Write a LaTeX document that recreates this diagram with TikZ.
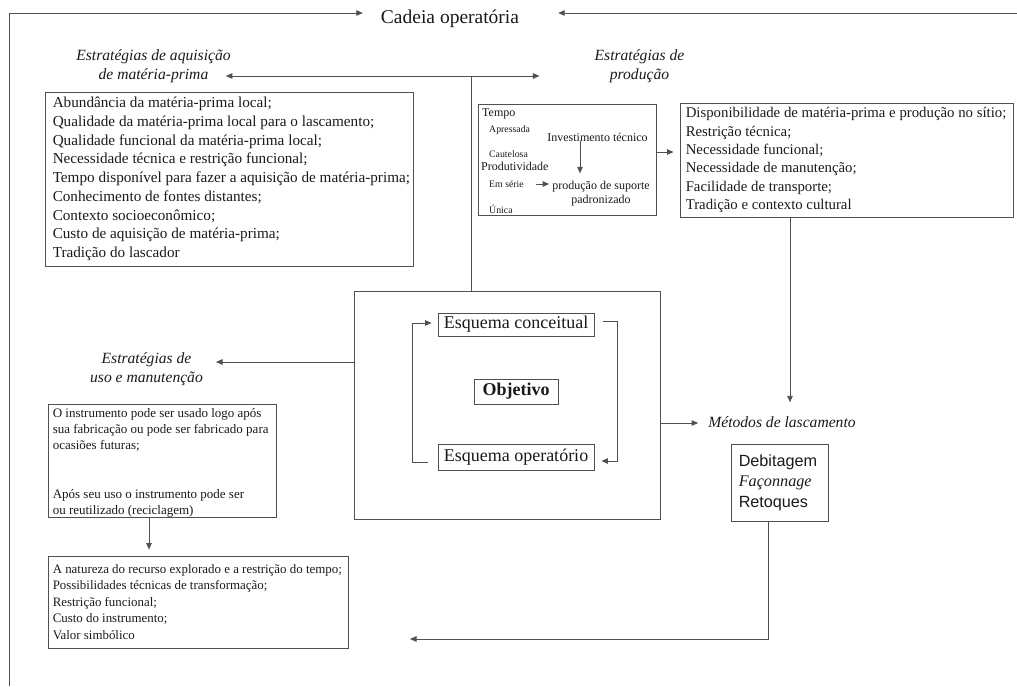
\documentclass[tikz,border=0pt]{standalone}
\usepackage{fontspec}
\setmainfont{Liberation Serif}
\newfontfamily\sansf{Liberation Sans}
\usetikzlibrary{arrows.meta,calc}
\definecolor{ln}{HTML}{505050}
\definecolor{tx}{HTML}{1A1A1A}
\begin{document}
\begin{tikzpicture}[x=1pt,y=-1pt,
  line/.style={draw=ln, line width=0.9pt},
  arr/.style={line, -{Triangle[length=6.5pt,width=5.5pt]}},
  box/.style={draw=ln, line width=0.9pt, text=tx, inner sep=0pt},
  btext/.style={text=tx, inner sep=0pt, align=left, anchor=west},
  lab/.style={text=tx, inner sep=0pt, align=center, font=\fontsize{15.6}{19}\selectfont\itshape},
  tsmall/.style={text=tx, inner sep=0pt, anchor=west, font=\fontsize{9.8}{10}\selectfont},
  tmid/.style={text=tx, inner sep=0pt, font=\fontsize{12}{14}\selectfont},
  esq/.style={box, font=\fontsize{18}{20}\selectfont, inner xsep=4pt, minimum height=23pt},
]
\useasboundingbox (0,0) rectangle (1017,686);

% frame and title
\node[text=tx, inner sep=0pt, font=\fontsize{19.5}{22}\selectfont] (title) at (450,19) {Cadeia operatória};
\coordinate (tl) at (9,13);
\coordinate (tr) at (1017,13);
\coordinate (bl) at (9,686);
\draw[arr] (tl) -- ([xshift=-18pt]title.west |- tl);
\draw[arr] (tr) -- ([xshift=39pt]title.east |- tr);
\draw[line] (tl) -- (bl);

% labels
\node[lab] (acq) at (153.5,66) {Estratégias de aquisição\\de matéria-prima};
\node[lab] (prodl) at (639.5,66) {Estratégias de\\produção};
\node[lab] (usel) at (146.5,369.5) {Estratégias de\\uso e manutenção};
\node[lab] (met) at (782,422) {Métodos de lascamento};

% central box
\node[box, minimum width=306pt, minimum height=228pt] (cbox) at (507,405) {};
\node[esq, minimum width=156pt] (conc) at (516,324.5) {Esquema conceitual};
\node[esq, minimum width=84pt, minimum height=25pt] (objv) at (516,391.5) {\bfseries Objetivo};
\node[esq, minimum width=156pt, minimum height=26pt] (oper) at (516,457) {Esquema operatório};

% junction and top arrows
\coordinate (j1) at (471,76);
\draw[line] (cbox.north -| j1) -- (j1);
\draw[arr] (j1) -- ([xshift=-5pt]acq.east |- j1);
\draw[arr] (j1) -- ([xshift=-55pt]prodl.west |- j1);

% acquisition box
\node[box, minimum width=368pt, minimum height=174pt] (acqbox) at (229,179) {};
\node[btext, font=\fontsize{15.2}{18.7}\selectfont] (acqtxt) at ([xshift=8pt]acqbox.west) {Abundância da matéria-prima local;\\
Qualidade da matéria-prima local para o lascamento;\\
Qualidade funcional da matéria-prima local;\\
Necessidade técnica e restrição funcional;\\
Tempo disponível para fazer a aquisição de matéria-prima;\\
Conhecimento de fontes distantes;\\
Contexto socioeconômico;\\
Custo de aquisição de matéria-prima;\\
Tradição do lascador};

% production box
\node[box, minimum width=178pt, minimum height=111pt] (pbox) at (567,159.5) {};
\node[tmid, anchor=west] (tempo) at (482,114) {Tempo};
\node[tsmall] (apr) at (489,130) {Apressada};
\node[tsmall] (cau) at (489,154) {Cautelosa};
\node[tmid, anchor=west] (prd) at (481,166) {Produtividade};
\node[tsmall] (ems) at (489,184) {Em série};
\node[tsmall] (uni) at (489,209) {Única};
\node[tmid] (inv) at (597.5,137) {Investimento técnico};
\node[tmid, align=center] (ps) at (601,194) {produção de suporte\\padronizado};
\draw[arr, shorten >=8pt] ([xshift=-17.5pt]inv.south) -- ([xshift=-17.5pt]inv.south |- ps.north);
\draw[arr] ([xshift=12pt]ems.east) -- ([xshift=-3pt]ps.west |- ems);

% right box
\node[box, minimum width=333pt, minimum height=114pt] (rbox) at (846.5,160) {};
\node[btext, font=\fontsize{14.8}{18.3}\selectfont] (rtxt) at ([xshift=6pt]rbox.west) {Disponibilidade de matéria-prima e produção no sítio;\\
Restrição técnica;\\
Necessidade funcional;\\
Necessidade de manutenção;\\
Facilidade de transporte;\\
Tradição e contexto cultural};
\draw[arr, shorten >=6pt] ([yshift=7.5pt]pbox.east) -- ([yshift=7.5pt]pbox.east -| rbox.west);
\draw[arr, shorten >=14pt] ([xshift=-56.5pt]rbox.south) -- ([xshift=-56.5pt]rbox.south |- met.north);

% loops in central box
\draw[arr] ([xshift=-10pt,yshift=-5pt]oper.west) -- ++(-15,0) |- ([xshift=-6pt,yshift=1.5pt]conc.west);
\draw[arr] ([xshift=9pt,yshift=3.5pt]conc.east) -- ++(14,0) |- ([xshift=7pt,yshift=-4pt]oper.east);

% methods
\draw[arr, shorten >=10pt] ([yshift=-18pt]cbox.east) -- ([yshift=-18pt]cbox.east -| met.west);
\node[box, minimum width=97pt, minimum height=77pt] (deb) at (779.5,482.5) {};
\node[btext, font=\fontsize{16.2}{20.5}\selectfont] (debtxt) at ([xshift=8pt]deb.west) {{\sansf Debitagem}\\{\itshape Façonnage}\\{\sansf Retoques}};

% use box
\path ([xshift=13pt]usel.east) coordinate (ut);
\draw[arr] ([yshift=43pt]cbox.west) -- ([yshift=43pt]cbox.west -| ut);
\node[box, minimum width=228pt, minimum height=113pt] (ubox) at (162,460.5) {};
\node[btext, font=\fontsize{13}{16.2}\selectfont] (utxt) at ([xshift=5pt,yshift=-2.5pt]ubox.west) {O instrumento pode ser usado logo após\\
sua fabricação ou pode ser fabricado para\\
ocasiões futuras;\\[32.4pt]
Após seu uso o instrumento pode ser\\
ou reutilizado (reciclagem)};

% bottom box
\node[box, minimum width=300pt, minimum height=92pt] (bbox) at (198,602) {};
\node[btext, font=\fontsize{12.9}{16.4}\selectfont] (btxt) at ([xshift=5pt]bbox.west) {A natureza do recurso explorado e a restrição do tempo;\\
Possibilidades técnicas de transformação;\\
Restrição funcional;\\
Custo do instrumento;\\
Valor simbólico};
\draw[arr, shorten >=6pt] ([xshift=-13pt]ubox.south) -- ([xshift=-13pt]ubox.south |- bbox.north);

\coordinate (btip) at (410,639);
\draw[arr] ([xshift=-11.5pt]deb.south) |- (btip);
\end{tikzpicture}
\end{document}
